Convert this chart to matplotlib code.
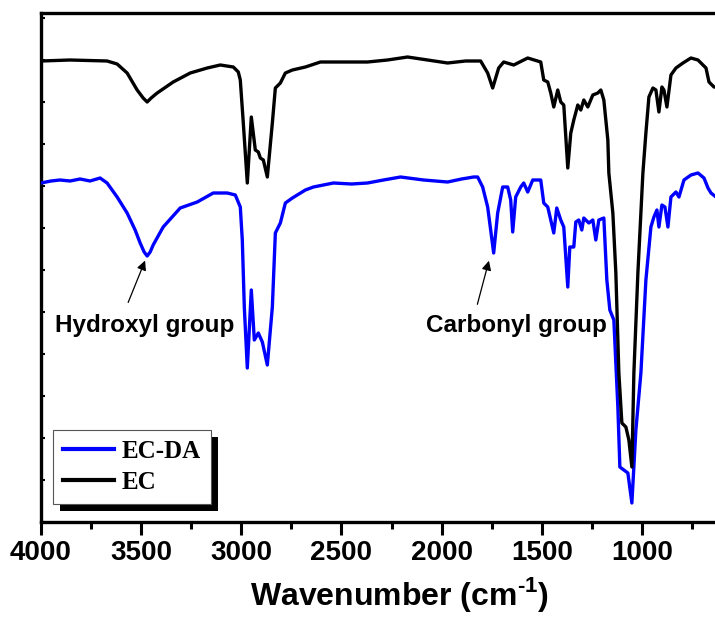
import numpy as np
import matplotlib
matplotlib.use("Agg")
import matplotlib.pyplot as plt
from matplotlib.patches import Rectangle

plt.rcParams['font.family'] = ['Liberation Sans', 'DejaVu Sans']
plt.rcParams['mathtext.fontset'] = 'custom'
plt.rcParams['mathtext.rm'] = 'Liberation Sans:bold'
plt.rcParams['mathtext.bf'] = 'Liberation Sans:bold'

# ---- data (wavenumber in cm^-1, transmittance in arbitrary units) ----
ec_wn = [4000, 3855, 3670, 3620, 3570, 3520, 3490, 3470, 3450, 3420, 3340, 3255, 3170, 3105, 3040, 3015, 3005,
         2990, 2970, 2950, 2930, 2915, 2905, 2890, 2870, 2845, 2830, 2805, 2780, 2745, 2680,
         2605, 2480, 2370, 2270, 2170, 2070, 1970, 1880, 1805, 1770, 1745, 1715, 1690, 1640, 1570, 1505, 1490, 1470,
         1455, 1440, 1420, 1405, 1390, 1370, 1355, 1340, 1320, 1305, 1290, 1270, 1245, 1220,
         1205, 1190, 1170, 1165, 1145, 1130, 1115, 1100, 1080, 1065, 1050, 1040, 1020, 995,
         980, 965, 945, 930, 915, 900, 890, 875, 855, 830, 795, 755, 720, 680, 665, 640, 630]
ec_t = [461, 462, 461, 458, 449, 432, 424, 420, 424, 429, 440, 449, 454, 457, 455, 450, 442,
        399, 339, 405, 372, 370, 364, 362, 345, 399, 434, 439, 449, 452, 455,
        460, 460, 460, 462, 465, 462, 459, 461, 461, 449, 434, 454, 460, 457, 464, 460, 442, 440,
        429, 415, 432, 420, 417, 354, 389, 402, 417, 412, 422, 415, 427, 429,
        432, 422, 382, 349, 309, 249, 149, 99, 95, 82, 55, 149, 249, 349,
        389, 425, 434, 432, 410, 435, 432, 415, 447, 454, 459, 464, 462, 454, 440, 435, 435]

ecda_wn = [4000, 3950, 3905, 3855, 3805, 3755, 3705, 3670, 3620, 3570, 3530, 3505, 3485, 3470, 3455, 3440, 3390, 3305, 3220,
           3140, 3070, 3030, 3005, 2995, 2985, 2970, 2950, 2935, 2915, 2895, 2870, 2845, 2830,
           2805, 2780, 2745, 2680, 2640, 2540, 2450, 2370, 2290, 2205, 2090, 1970, 1900, 1840, 1820, 1795, 1770, 1740,
           1720, 1695, 1670, 1655, 1645, 1630, 1605, 1590, 1570, 1545, 1505, 1490, 1470, 1455,
           1440, 1425, 1405, 1390, 1370, 1360, 1340, 1330, 1315, 1300, 1290, 1265, 1245, 1230,
           1215, 1190, 1175, 1160, 1140, 1120, 1110, 1090, 1070, 1050, 1030, 1005, 980, 955,
           940, 925, 915, 900, 885, 870, 855, 830, 815, 790, 755, 720, 690, 670, 655, 630]
ecda_t = [339, 341, 342, 341, 343, 341, 344, 339, 325, 309, 292, 279, 270, 266, 270, 277, 295, 314, 320,
          329, 329, 327, 315, 282, 215, 154, 232, 182, 189, 180, 157, 215, 289,
          299, 319, 324, 332, 335, 339, 338, 339, 342, 345, 342, 340, 343, 345, 345, 335, 315, 269,
          309, 335, 335, 322, 290, 325, 335, 339, 330, 342, 342, 319, 315, 302,
          289, 314, 302, 295, 235, 275, 275, 300, 302, 292, 304, 299, 302, 282,
          302, 304, 242, 212, 202, 115, 55, 52, 49, 19, 92, 149, 242, 295,
          305, 312, 295, 317, 315, 295, 325, 330, 325, 342, 347, 349, 344, 334, 329, 325]

series_labels = ['EC-DA', 'EC']
series_colors = ['#0000ff', '#000000']
x_ticks = [4000, 3500, 3000, 2500, 2000, 1500, 1000]

# ---- figure ----
W, H = 715, 617
fig = plt.figure(figsize=(W / 100, H / 100), dpi=100)
ax = fig.add_axes([41 / W, 1 - 522 / H, (W - 41) / W, (522 - 13) / H])

ax.plot(ecda_wn, ecda_t, color=series_colors[0], lw=2.4, label=series_labels[0], zorder=3)
ax.plot(ec_wn, ec_t, color=series_colors[1], lw=2.4, label=series_labels[1], zorder=3)

ax.set_xlim(4000, 635)
ax.set_ylim(0, 509)

for s in ['left', 'bottom', 'top']:
    ax.spines[s].set_linewidth(2.4)
ax.spines['right'].set_visible(False)

ax.set_xticks(x_ticks)
ax.set_xticks(np.arange(3750, 600, -500), minor=True)
ax.tick_params(axis='x', which='major', direction='out', length=9, width=2.2,
               labelsize=20, pad=4)
ax.tick_params(axis='x', which='minor', direction='out', length=5, width=2.2)
for lab in ax.get_xticklabels():
    lab.set_fontweight('bold')
ax.set_yticks(np.arange(0, 509, 42))
ax.tick_params(axis='y', which='major', direction='in', length=3, width=1.5,
               labelleft=False)

ax.set_xlabel(r'Wavenumber (cm$^{\text{-1}}$)', fontsize=23, fontweight='bold')
ax.xaxis.label.set_verticalalignment('baseline')
ax.xaxis.set_label_coords((399 - 41) / (W - 41), -(605 - 522) / 509)

# annotations
ax.text(3480, 197, 'Hydroxyl group', fontsize=17.5, fontweight='bold', ha='center', va='center')
ax.text(1627, 197, 'Carbonyl group', fontsize=17.5, fontweight='bold', ha='center', va='center')
ax.annotate('', xy=(3475, 264), xytext=(3570, 217),
            arrowprops=dict(arrowstyle='-|>', color='black', lw=0.9, mutation_scale=14))
ax.annotate('', xy=(1760, 264), xytext=(1825, 215),
            arrowprops=dict(arrowstyle='-|>', color='black', lw=0.9, mutation_scale=14))

leg = ax.legend(loc='lower left', bbox_to_anchor=(0.018, 0.035), borderaxespad=0,
                prop={'family': 'Liberation Serif', 'weight': 'bold', 'size': 18},
                frameon=True, fancybox=False, handlelength=2.05, handletextpad=0.3,
                labelspacing=0.32, borderpad=0.4, edgecolor='#555555', framealpha=1)
leg.get_frame().set_linewidth(0.8)
for ln in leg.get_lines():
    ln.set_linewidth(3)
leg.set_zorder(6)

fig.canvas.draw()
bb = leg.get_window_extent()
inv = fig.transFigure.inverted()
(x0, y0), (x1, y1) = inv.transform([(bb.x0 + 7, bb.y0 - 7), (bb.x1 + 7, bb.y1 - 7)])
ax.add_patch(Rectangle((x0, y0), x1 - x0, y1 - y0, transform=fig.transFigure,
                       facecolor='black', edgecolor='none', zorder=5, clip_on=False))

fig.savefig('out.png', dpi=100)
